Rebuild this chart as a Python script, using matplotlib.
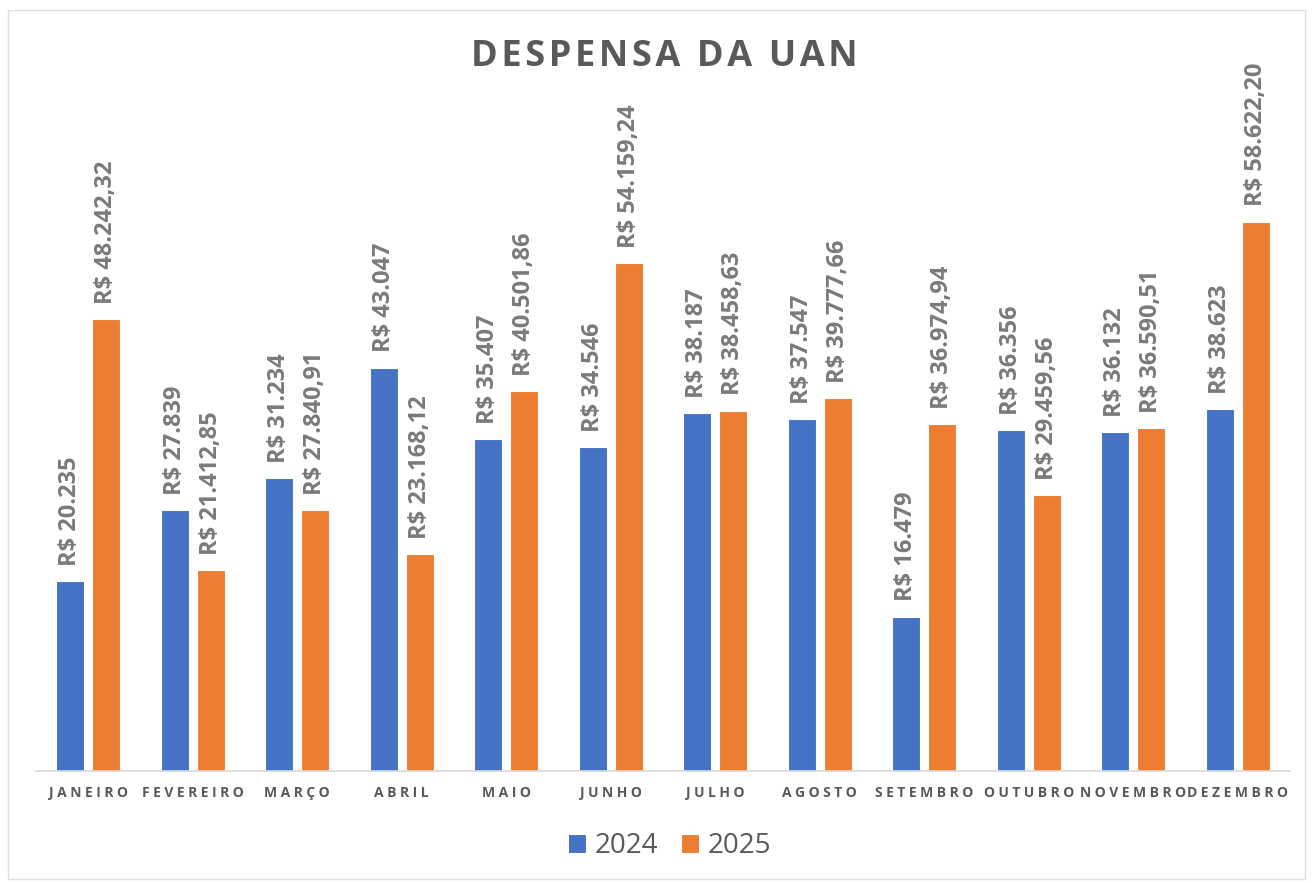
import matplotlib.pyplot as plt
import numpy as np
from matplotlib.patches import Rectangle

# --- data ---
meses = ['JANEIRO', 'FEVEREIRO', 'MARÇO', 'ABRIL', 'MAIO', 'JUNHO',
         'JULHO', 'AGOSTO', 'SETEMBRO', 'OUTUBRO', 'NOVEMBRO', 'DEZEMBRO']
valores_2024 = [20235, 27839, 31234, 43047, 35407, 34546,
                38187, 37547, 16479, 36356, 36132, 38623]
valores_2025 = [48242.32, 21412.85, 27840.91, 23168.12, 40501.86, 54159.24,
                38458.63, 39777.66, 36974.94, 29459.56, 36590.51, 58622.20]
labels_2024 = ['R$ 20.235', 'R$ 27.839', 'R$ 31.234', 'R$ 43.047', 'R$ 35.407', 'R$ 34.546',
               'R$ 38.187', 'R$ 37.547', 'R$ 16.479', 'R$ 36.356', 'R$ 36.132', 'R$ 38.623']
labels_2025 = ['R$ 48.242,32', 'R$ 21.412,85', 'R$ 27.840,91', 'R$ 23.168,12', 'R$ 40.501,86',
               'R$ 54.159,24', 'R$ 38.458,63', 'R$ 39.777,66', 'R$ 36.974,94', 'R$ 29.459,56',
               'R$ 36.590,51', 'R$ 58.622,20']

BLUE = '#4472C4'
ORANGE = '#ED7D31'
GRAY_LBL = '#7a7a7a'
GRAY_TXT = '#595959'


def spaced(s, sp):
    # fake letter spacing, like the Excel chart
    return sp.join(s)


plt.rcParams['font.family'] = ['Open Sans', 'DejaVu Sans']

fig = plt.figure(figsize=(13.13, 8.83), dpi=100)
ax = fig.add_axes([36 / 1313, 1 - 771 / 883, 1254 / 1313, 656 / 883])

x = np.arange(len(meses))
w = 0.268
off = 0.172
b1 = ax.bar(x - off, valores_2024, w, color=BLUE, edgecolor='white', linewidth=0.8, label='2024')
b2 = ax.bar(x + off, valores_2025, w, color=ORANGE, edgecolor='white', linewidth=0.8, label='2025')

for bars, labs in ((b1, labels_2024), (b2, labels_2025)):
    for rect, lab in zip(bars, labs):
        ax.annotate(lab, (rect.get_x() + rect.get_width() / 2, rect.get_height()),
                    xytext=(0, 11), textcoords='offset points', rotation=90,
                    ha='center', va='bottom', fontsize=17, fontweight='bold',
                    color=GRAY_LBL)

ax.set_xlim(-0.5, len(meses) - 0.5)
ax.set_ylim(0, 70000)
ax.set_xticks(x)
ax.set_xticklabels([spaced(m, '\u2005') for m in meses], fontsize=10, fontweight='bold',
                   color=GRAY_TXT)
ax.tick_params(axis='x', length=0, pad=11)
ax.set_yticks([])
for s in ('left', 'right', 'top'):
    ax.spines[s].set_visible(False)
ax.spines['bottom'].set_color('#d9d9d9')
ax.spines['bottom'].set_linewidth(1.2)

fig.text(0.506, 1 - 57 / 883, spaced('DESPENSA DA UAN', '\u200a'), ha='center', va='center',
         fontsize=26, fontweight='bold', color=GRAY_TXT)

fig.legend(handles=[b1, b2], loc='center', bbox_to_anchor=(0.51, 1 - 846 / 883), ncol=2,
           frameon=False, fontsize=20, handlelength=0.65, handleheight=0.65,
           handletextpad=0.3, columnspacing=0.85, labelcolor=GRAY_TXT)

fig.patches.append(Rectangle((8 / 1313, 0.005), 1 - 16 / 1313, 1 - 10 / 883 - 0.005,
                             transform=fig.transFigure, fill=False,
                             edgecolor='#e0e0e0', linewidth=1))

fig.savefig('out.png', dpi=100, facecolor='white')
